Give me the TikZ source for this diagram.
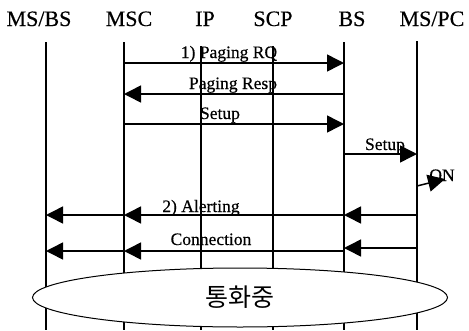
\documentclass[tikz,border=0pt]{standalone}
\usepackage{fontspec}
\setmainfont{Liberation Serif}[FakeBold=0.4]
\newfontfamily\krfont{Noto Sans CJK KR}
\usetikzlibrary{arrows.meta,shapes.geometric}

\begin{document}
\begin{tikzpicture}[x=1pt,y=-1pt,
  title/.style={font=\fontsize{22}{26}\selectfont, anchor=base, inner sep=0pt},
  msglabel/.style={font=\fontsize{17.5}{20}\selectfont, anchor=base, inner sep=0pt},
  lifeline/.style={line width=1.5pt},
  msg/.style={line width=1.5pt, -{Triangle[length=17pt,width=17pt]}},
]
\useasboundingbox (0,0) rectangle (469,330);

% entity names
\node[title] (t-msbs) at (39,26)  {MS/BS};
\node[title] (t-msc)  at (129,26) {MSC};
\node[title] (t-ip)   at (205,26) {IP};
\node[title] (t-scp)  at (273,26) {SCP};
\node[title] (t-bs)   at (352,26) {BS};
\node[title] (t-mspc) at (432,26) {MS/PC};

% lifeline tops and the bottom edge
\coordinate (msbs) at (46,42);
\coordinate (msc)  at (124,42);
\coordinate (ip)   at (201,46);
\coordinate (scp)  at (273,46);
\coordinate (bs)   at (344,42);
\coordinate (mspc) at (417,41);
\coordinate (bot)  at (0,330);

\foreach \l in {msbs,msc,ip,scp,bs,mspc}
  \draw[lifeline] (\l) -- (\l |- bot);

% message rows
\coordinate (y1)  at (0,63);
\coordinate (y2)  at (0,94);
\coordinate (y3)  at (0,124);
\coordinate (y4)  at (0,154);
\coordinate (y5)  at (0,186);
\coordinate (y6)  at (0,215);
\coordinate (y7)  at (0,251);
\coordinate (y7r) at (0,248);

% 1) paging
\draw[msg] (msc |- y1) -- (bs |- y1);
\node[msglabel] (l-rq) at (229,58) {1) Paging RQ};
\draw[msg] (bs |- y2) -- (msc |- y2);
\node[msglabel] (l-resp) at (233,89) {Paging Resp};

% setup
\draw[msg] (msc |- y3) -- (bs |- y3);
\node[msglabel] (l-setup1) at (220,119) {Setup};
\draw[msg] (bs |- y4) -- (mspc |- y4);
\node[msglabel] (l-setup2) at (385,150) {Setup};

% terminal switched on
\coordinate (on-tip) at (445,179);
\draw[msg] (mspc |- y5) -- (on-tip);
\node[msglabel] (l-on) at (442,181) {ON};

% 2) alerting
\draw[msg] (mspc |- y6) -- (bs |- y6);
\draw[msg] (bs |- y6) -- (msc |- y6);
\draw[msg] (msc |- y6) -- (msbs |- y6);
\node[msglabel] (l-alert) at (201,212) {2) Alerting};

% connection
\draw[msg] (mspc |- y7r) -- (bs |- y7r);
\draw[msg] (bs |- y7) -- (msc |- y7);
\draw[msg] (msc |- y7) -- (msbs |- y7);
\node[msglabel] (l-conn) at (211,245) {Connection};

% call in progress
\node[draw, ellipse, fill=white, line width=1pt, minimum width=415pt,
      minimum height=59pt, inner sep=0pt, font=\krfont\fontsize{25}{29}\selectfont]
  (talk) at (240,297.5) {통화중};
\end{tikzpicture}
\end{document}
